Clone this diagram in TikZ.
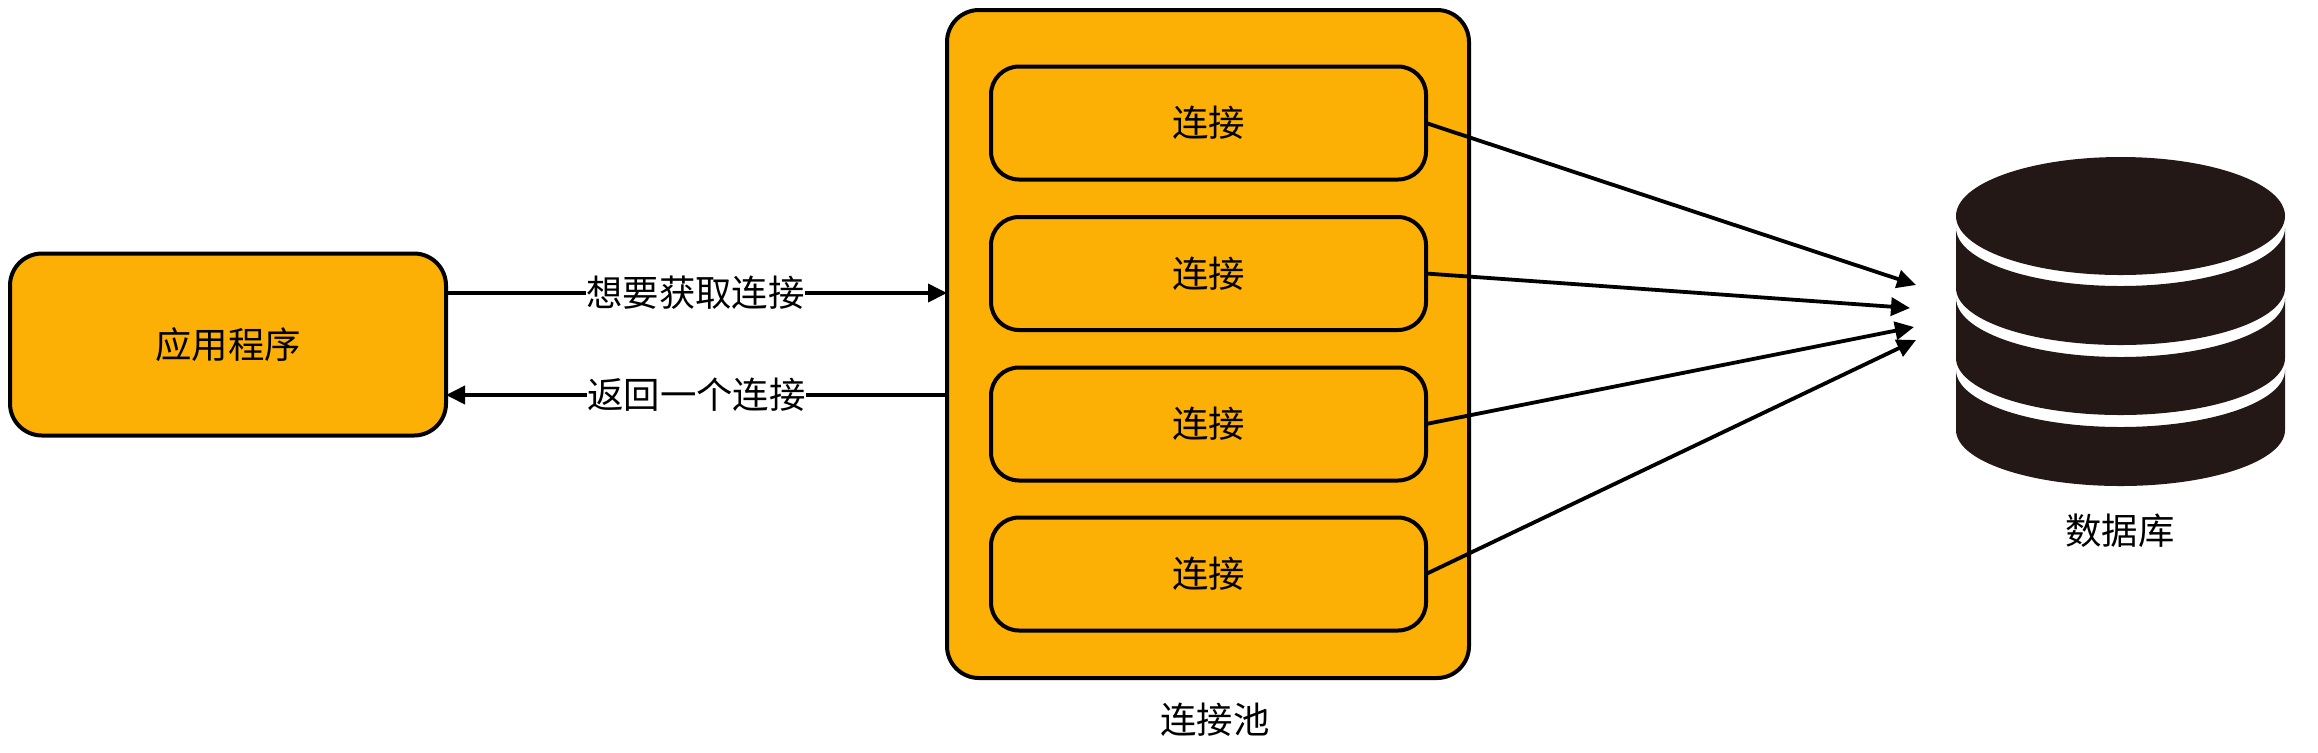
\documentclass[tikz,border=0pt]{standalone}
\usepackage{fontspec}
\setmainfont{Noto Sans CJK SC}
\usetikzlibrary{arrows.meta}
\definecolor{poolorange}{HTML}{FCAF04}
\definecolor{dbdark}{HTML}{231815}
\tikzset{
  box/.style={draw=black,line width=2pt,fill=poolorange,rounded corners=14pt,inner sep=0pt,outer sep=0pt,font=\fontsize{18.2}{22}\selectfont},
  conn/.style={box,minimum width=217.5pt,minimum height=56.5pt},
  edge/.style={line width=1.9pt,-{Triangle[length=9.5pt,width=9pt]}},
  lbl/.style={inner sep=0pt,font=\fontsize{18.2}{22}\selectfont},
  wlbl/.style={lbl,fill=white},
  disk/.style={fill=dbdark,draw=none},
}
\begin{document}
\begin{tikzpicture}[x=0.5pt,y=-0.5pt]
\useasboundingbox (0,0) rectangle (2318,752);
% pool
\node[box,minimum width=261pt,minimum height=334pt,rounded corners=16pt] (pool) at (1208,344) {};
\node[lbl] (poollbl) at (1215,720) {连接池};
% connections
\node[conn] (c1) at (1208.5,123) {连接};
\node[conn] (c2) at (1208.5,273.5) {连接};
\node[conn] (c3) at (1208.5,424) {连接};
\node[conn] (c4) at (1208.5,574) {连接};
% application
\node[box,minimum width=218pt,minimum height=91pt,rounded corners=16pt] (app) at (228,344.5) {应用程序};
% arrows app<->pool
\coordinate (a1) at (app.east |- 0,293);
\coordinate (a2) at (pool.west |- 0,293);
\coordinate (b1) at (pool.west |- 0,395);
\coordinate (b2) at (app.east |- 0,395);
\draw[edge] (a1) -- node[wlbl,xshift=-0.5pt] (l1) {想要获取连接} (a2);
\draw[edge] (b1) -- node[wlbl] (l2) {返回一个连接} (b2);
% database
\fill[disk] (1956,288) -- (1956,228) arc[start angle=180,end angle=360,x radius=164.5,y radius=-58] -- (2285,288) arc[start angle=0,end angle=-180,x radius=164.5,y radius=-57] -- cycle;
\fill[disk] (1956,358) -- (1956,298) arc[start angle=180,end angle=360,x radius=164.5,y radius=-59] -- (2285,358) arc[start angle=0,end angle=-180,x radius=164.5,y radius=-57] -- cycle;
\fill[disk] (1956,430) -- (1956,370) arc[start angle=180,end angle=360,x radius=164.5,y radius=-57] -- (2285,430) arc[start angle=0,end angle=-180,x radius=164.5,y radius=-56] -- cycle;
\fill[disk] (2120.5,216) ellipse[x radius=164.5,y radius=59];
\node[lbl] (dblbl) at (2120,531) {数据库};
\coordinate (t1) at (1916,285);
\coordinate (t2) at (1910,308);
\coordinate (t3) at (1914,327);
\coordinate (t4) at (1916,340);
\draw[edge] (c1.east) -- (t1);
\draw[edge] (c2.east) -- (t2);
\draw[edge] (c3.east) -- (t3);
\draw[edge] (c4.east) -- (t4);
\end{tikzpicture}
\end{document}
